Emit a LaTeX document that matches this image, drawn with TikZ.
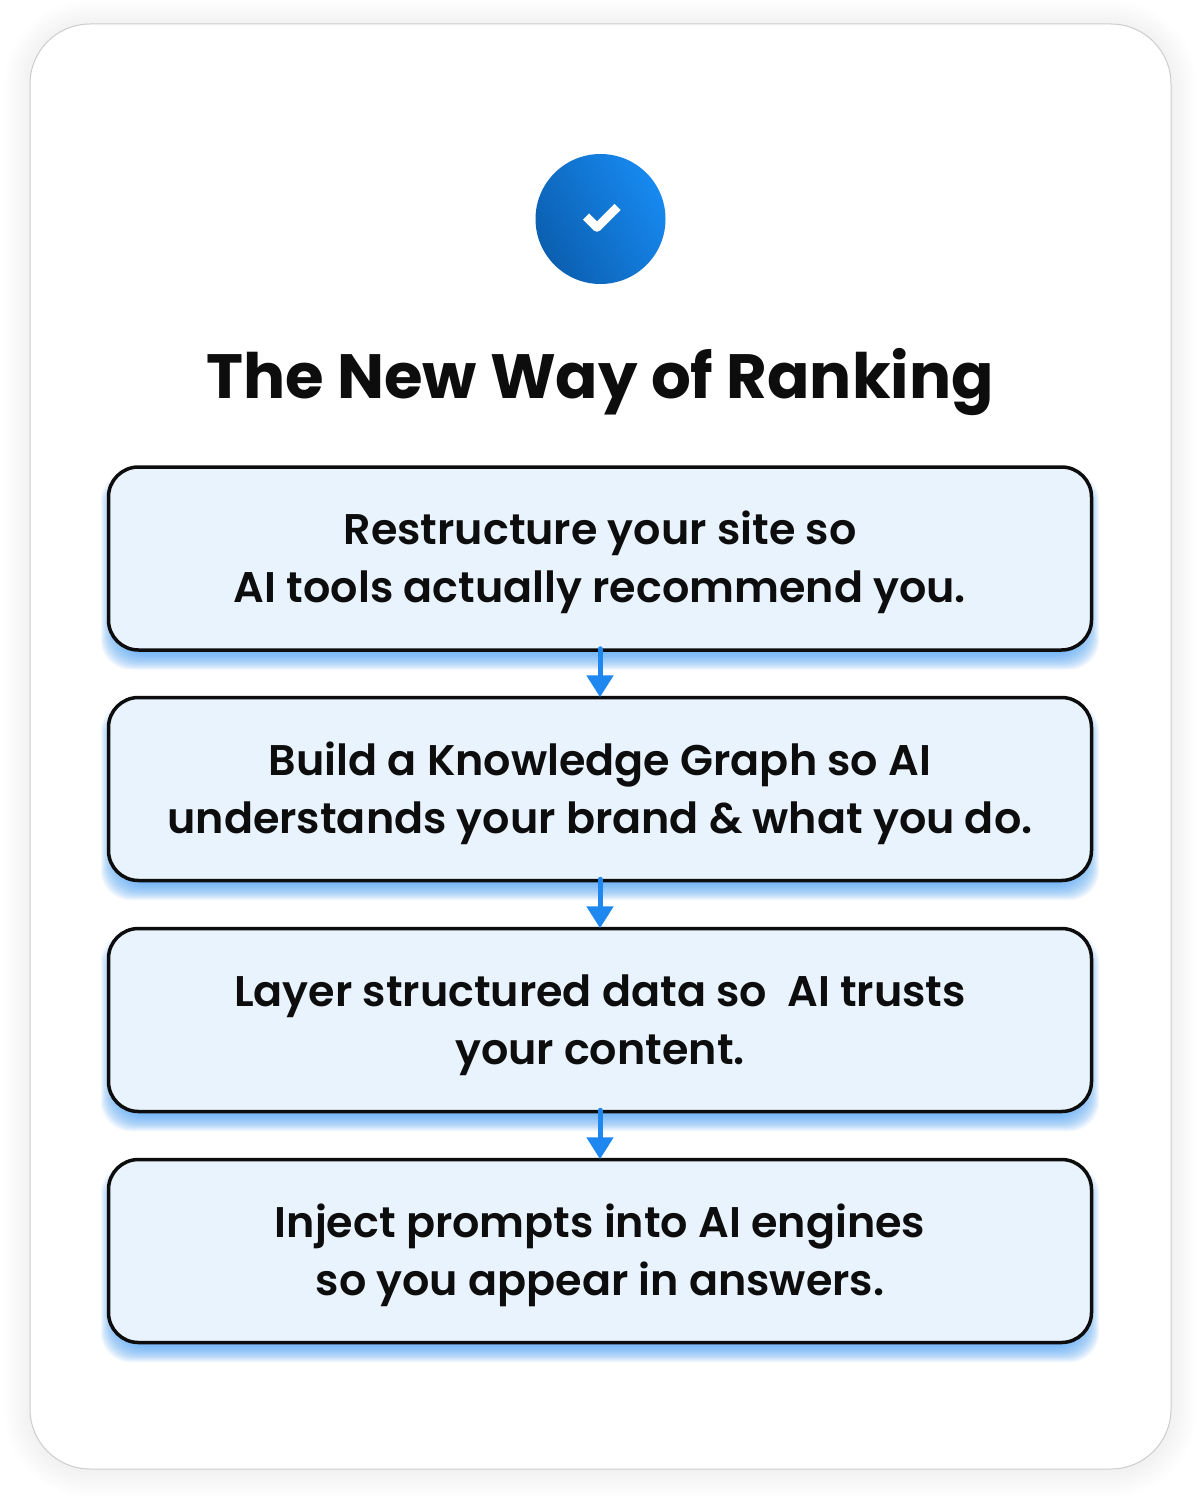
\documentclass[tikz,border=0pt]{standalone}
\usepackage{fontspec}
\setmainfont{Poppins}[BoldFont=* SemiBold]
\newfontfamily\titlefont{Poppins}[UprightFont=* Bold]
\usetikzlibrary{arrows.meta,backgrounds}
\definecolor{boxfill}{HTML}{E8F3FE}
\definecolor{boxshadow}{HTML}{5AA9F7}
\definecolor{arrowblue}{HTML}{1E88F0}
\definecolor{inkblack}{HTML}{0D0D0D}
\definecolor{iconlow}{HTML}{0B5FB0}
\definecolor{iconhigh}{HTML}{1789F0}
\newcommand{\topgap}{\rule{0pt}{23.7pt}}
\tikzset{
	stepbox/.style={draw=inkblack,line width=3.5*0.02cm,fill=boxfill,rounded corners=30*0.02cm,
		minimum width=983*0.02cm,minimum height=183*0.02cm,align=center,text=inkblack,
		font=\fontsize{24.4}{33}\selectfont\bfseries,inner sep=0pt},
	flowarrow/.style={arrowblue,line width=5*0.02cm,line cap=round,-{Triangle[width=26*0.02cm,length=22*0.02cm]}}
}
\begin{document}
\begin{tikzpicture}[x=0.02cm,y=-0.02cm]
	\useasboundingbox (0,0) rectangle (1200,1504);
	% the steps
	\node[stepbox] (box1) at (600,558.5) {\topgap Restructure your site so\\AI tools actually recommend you.};
	\node[stepbox] (box2) at (600,789) {\topgap Build a Knowledge Graph so AI\\understands your brand \& what you do.};
	\node[stepbox] (box3) at (600,1020) {\topgap Layer structured data so~ AI trusts\\your content.};
	\node[stepbox] (box4) at (600,1251) {\topgap Inject prompts into AI engines\\so you appear in answers.};
	% title and icon
	\node[text=inkblack,font=\fontsize{35.6}{40}\titlefont] (title) at (600,382) {The New Way of Ranking};
	\node[circle,minimum size=130*0.02cm,inner sep=0pt,left color=iconlow,right color=iconhigh,shading angle=120] (icon) at (600.5,219) {};
	\draw[white,line width=8.5*0.02cm,line join=round] (586,216.5) -- (597,227.5) -- (617.5,207);
	% connectors
	\foreach \a/\b in {box1/box2,box2/box3,box3/box4}
		\draw[flowarrow] ([yshift=3*0.02cm]\a.south) -- ([yshift=-1.5*0.02cm]\b.north);
	% card and shadows
	\begin{scope}[on background layer]
		\foreach \g in {26,24,...,2}
			\fill[black,opacity=0.004,rounded corners={(60+\g)*0.02cm}] (30-\g,26-\g) rectangle (1171+\g,1471+\g);
		\draw[draw=black!20,line width=1*0.02cm,fill=white,rounded corners=60*0.02cm] (30,24) rectangle (1171,1469);
		\foreach \b in {box1,box2,box3,box4}
			\foreach \g in {6,5,...,-12}
				\fill[boxshadow,opacity=0.08,rounded corners=30*0.02cm]
					([xshift=-\g*0.02cm,yshift=(-12-\g)*0.02cm]\b.south west) rectangle ([xshift=\g*0.02cm,yshift=(-12+\g)*0.02cm]\b.north east);
	\end{scope}
\end{tikzpicture}
\end{document}
